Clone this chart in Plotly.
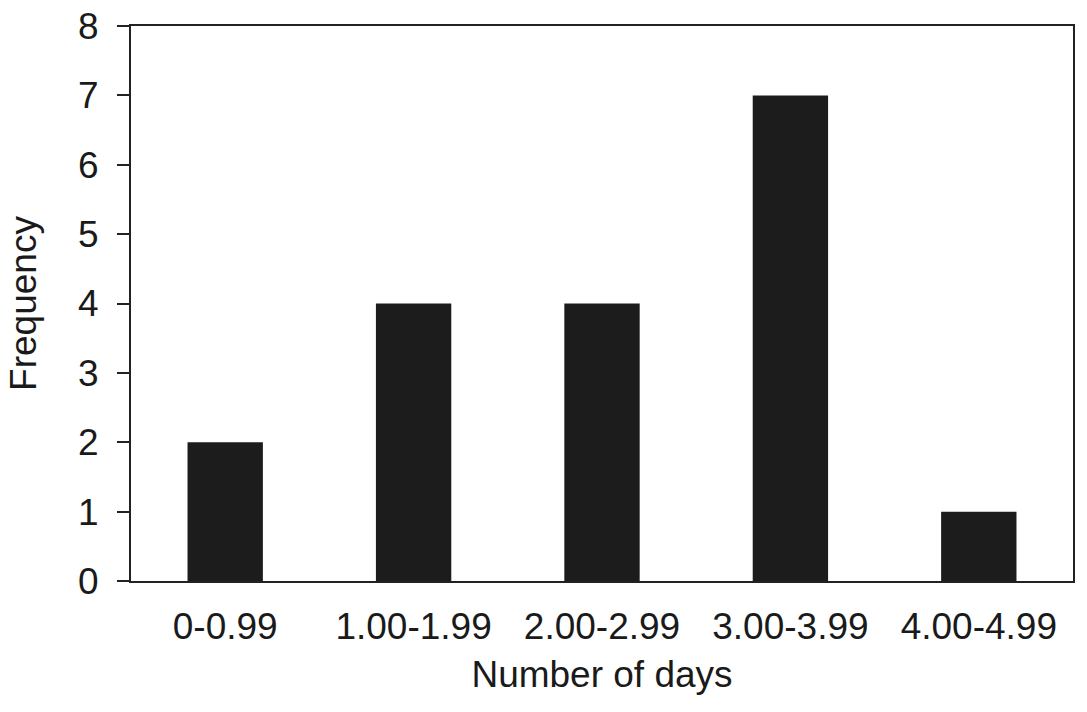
import plotly.graph_objects as go

categories = ["0-0.99", "1.00-1.99", "2.00-2.99", "3.00-3.99", "4.00-4.99"]
frequency = [2, 4, 4, 7, 1]
y_ticks = [0, 1, 2, 3, 4, 5, 6, 7, 8]

FONT = "Liberation Sans, Arial, sans-serif"
FS = 37
fig = go.Figure(go.Bar(x=categories, y=frequency, marker=dict(color="#1c1c1c", line=dict(width=0))))

fig.update_layout(
    width=1087, height=712,
    margin=dict(l=131, r=14, t=26, b=131),
    paper_bgcolor="white", plot_bgcolor="white",
    bargap=0.6, showlegend=False,
    font=dict(family=FONT, size=FS, color="#1a1a1a"),
)
fig.update_xaxes(
    type="category", range=[-0.5, 4.5], automargin=False,
    showline=True, linecolor="#222", linewidth=2, mirror=True,
    ticks="", showgrid=False, ticklabelstandoff=12,
    title=dict(text="Number of days", standoff=15, font=dict(size=FS)),
    tickfont=dict(size=FS),
)
fig.update_yaxes(
    range=[0, 8], tickvals=y_ticks, automargin=False,
    showline=True, linecolor="#222", linewidth=2, mirror=True,
    ticks="outside", ticklen=12, tickwidth=2, tickcolor="#222",
    showgrid=False, zeroline=False, ticklabelstandoff=11,
    title=dict(text="Frequency", standoff=30, font=dict(size=FS)),
    tickfont=dict(size=FS),
)
fig.write_html("out.html", config={"displayModeBar": False},
               post_script="document.body.style.margin='0px';")
